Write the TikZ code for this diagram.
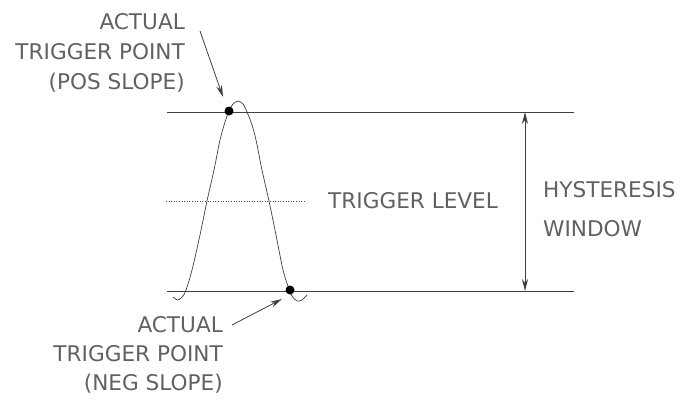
\documentclass[tikz,border=0pt]{standalone}
\usepackage{fontspec}
\setmainfont{DejaVu Sans}
\usetikzlibrary{arrows.meta}
\begin{document}
\begin{tikzpicture}[x=1pt,y=-1pt,
  lbl/.style={text=black!62,font=\fontsize{21.6}{21.6}\selectfont,inner sep=0pt},
  ln/.style={draw=black!75,line width=0.8pt},
  tip/.style={-{Stealth[length=12pt,width=6pt]}},
  dot/.style={circle,fill=black,inner sep=0pt,minimum size=9pt}]
\useasboundingbox (0,0) rectangle (683,401);
% levels
\coordinate (tl) at (167,112); \coordinate (tr) at (574,112);
\coordinate (bl) at (167,291); \coordinate (br) at (574,291);
\draw[ln] (tl) -- (tr);
\draw[ln] (bl) -- (br);
\coordinate (dl) at (166,201); \coordinate (dr) at (306,201);
\draw[black!70,line width=0.6pt,dotted] (dl) -- (dr);
% waveform
\draw[ln,line width=0.7pt] plot[smooth,tension=0.5] coordinates
 {(173,297) (178,300) (183,296) (186,290) (192,270) (200,235) (207,201) (214,170) (220,140) (225,122) (229,111) (233,104) (238,101) (243,104) (247,112) (252,125) (256,140) (262,170) (269,201) (276,235) (283,270) (288,286) (292,296) (297,301) (302,300) (307,295)};
\node[dot] (pos) at (229,111) {};
\node[dot] (neg) at (290,290) {};
% labels
\node[lbl,anchor=base east] (a1) at (185,30) {ACTUAL};
\node[lbl,anchor=base east] (a2) at (185,60) {TRIGGER POINT};
\node[lbl,anchor=base east] (a3) at (185,90) {(POS SLOPE)};
\node[lbl,anchor=base east] (b1) at (223,332) {ACTUAL};
\node[lbl,anchor=base east] (b2) at (223,361) {TRIGGER POINT};
\node[lbl,anchor=base east] (b3) at (223,390) {(NEG SLOPE)};
\node[lbl,anchor=base west] (tlv) at (328,208) {TRIGGER LEVEL};
\node[lbl,anchor=base west] (h1) at (543,197) {HYSTERESIS};
\node[lbl,anchor=base west] (h2) at (543,236) {WINDOW};
% arrows
\coordinate (pa) at (200,31); \coordinate (pb) at (223,97);
\draw[ln,tip] (pa) -- (pb);
\coordinate (na) at (232,325); \coordinate (nb) at (282,299);
\draw[ln,tip] (na) -- (nb);
\coordinate (wt) at (525,112); \coordinate (wb) at (525,291);
\draw[ln,{Stealth[length=12pt,width=6pt]}-{Stealth[length=12pt,width=6pt]}] (wt) -- (wb);
\end{tikzpicture}
\end{document}
